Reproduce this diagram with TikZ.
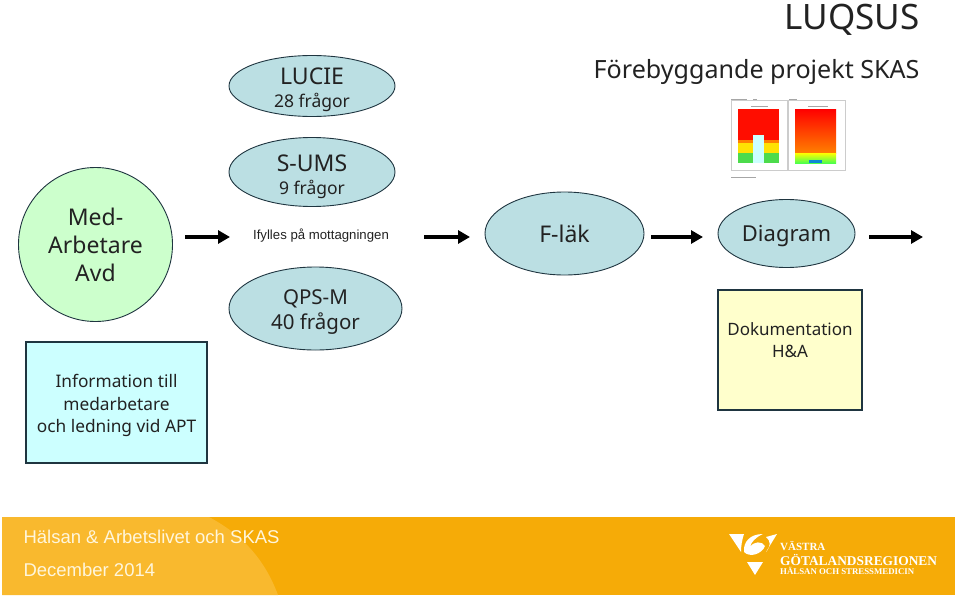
\documentclass[tikz,border=0pt]{standalone}
\usepackage{fontspec}
\setmainfont{Noto Sans}
\newfontfamily\arialfont{Liberation Sans}
\newfontfamily\logofont{Liberation Serif}
\usetikzlibrary{shapes.geometric,arrows.meta}
\definecolor{bluefill}{HTML}{BBDFE3}
\definecolor{greenfill}{HTML}{CCFFCC}
\definecolor{cyanfill}{HTML}{CCFFFF}
\definecolor{yellowfill}{HTML}{FFFFCC}
\definecolor{bandfill}{HTML}{F6AB07}
\definecolor{arcfill}{HTML}{F9B92E}
\definecolor{bandtext}{HTML}{FFF6DC}
\definecolor{inktext}{HTML}{222222}
\definecolor{edgeline}{HTML}{1F3540}
\tikzset{
  oval/.style={ellipse,draw=edgeline,line width=0.9pt,fill=bluefill,inner sep=0pt,align=center,text=inktext},
  box/.style={rectangle,draw=edgeline,line width=1.2pt,fill=#1,inner sep=0pt,align=center,text=inktext},
  ovaltext/.style={align=center,inner sep=0pt,text=inktext,font=\fontsize{#1}{25}\selectfont},
  flow/.style={line width=3.6pt,-{Triangle[length=12pt,width=13pt]},black},
  thumb/.style={draw=black!20,fill=white},
  tiny/.style={black!35,line width=0.5pt}
}
\begin{document}
\begin{tikzpicture}[x=1pt,y=-1pt]
\useasboundingbox (0,0) rectangle (959,597);
\fill [bandfill] (2,517) rectangle (955,595);
\fill [arcfill] (2,517) -- (209,517) .. controls (243,535) and (265,560) .. (278,595) -- (2,595) -- cycle;
\draw (923,20) node [anchor=east,font=\fontsize{35}{35}\selectfont,text=inktext] (luqsus) {LUQSUS};
\draw (923,72) node [anchor=east,font=\fontsize{25.1}{25}\selectfont,text=inktext] (projekt) {Förebyggande projekt SKAS};
\draw (312,86) node [oval,minimum width=166pt,minimum height=61pt] (lucie) {};
\draw (312,89.5) node [ovaltext=17.5] (lucietext) {{\fontsize{23}{25}\selectfont LUCIE}\\[-2pt]28 frågor};
\draw (312,172) node [oval,minimum width=166pt,minimum height=69pt] (sums) {};
\draw (312,176.5) node [ovaltext=17.5] (sumstext) {{\fontsize{23}{25}\selectfont S-UMS}\\[-2pt]9 frågor};
\draw (315.5,308.5) node [oval,minimum width=173pt,minimum height=83pt] (qpsm) {};
\draw (315.5,312.5) node [ovaltext=20.5] (qpsmtext) {QPS-M\\40 frågor};
\draw (321,236) node [font=\arialfont\fontsize{13.2}{14}\selectfont,text=inktext] (ifylles) {Ifylles på mottagningen};
\draw (95.5,244.5) node [circle,draw=edgeline,line width=0.9pt,fill=greenfill,minimum size=154pt,inner sep=0pt,align=center,font=\fontsize{23}{28}\selectfont,text=inktext] (med) {Med-\\Arbetare\\Avd};
\draw (116.5,402.5) node [box=cyanfill,minimum width=181pt,minimum height=121pt,font=\fontsize{17.3}{22.5}\selectfont] (info) {\rule{0pt}{20pt}Information till\\medarbetare\\och ledning vid APT};
\draw (564.5,233.5) node [oval,minimum width=159pt,minimum height=83pt,font=\fontsize{23}{28}\selectfont] (flak) {F-läk};
\draw (786.5,233.5) node [oval,minimum width=137pt,minimum height=68pt,text depth=0pt,font=\fontsize{22}{28}\selectfont] (diagram) {Diagram};
\draw (790,350) node [box=yellowfill,minimum width=144pt,minimum height=120pt,font=\fontsize{17}{22.5}\selectfont] (dok) {Dokumentation\\H\&A\rule[-20pt]{0pt}{0pt}};
\coordinate (a1) at (185,237);
\coordinate (a2) at (230,237);
\coordinate (b1) at (424,237);
\coordinate (b2) at (470,237);
\coordinate (c1) at (651,237);
\coordinate (c2) at (703,237);
\coordinate (d1) at (869,237);
\coordinate (d2) at (923,237);
\draw [flow] (a1)--(a2);
\draw [flow] (b1)--(b2);
\draw [flow] (c1)--(c2);
\draw [flow] (d1)--(d2);
\draw [thumb] (731,100) rectangle (787,170);
\draw [thumb] (788,100) rectangle (845,170);
\draw [tiny] (731,99)--(747,99);
\draw [tiny] (753,99)--(757,99);
\draw [tiny] (789,99)--(797,99);
\draw [tiny] (731,177)--(756,177);
\draw [tiny] (751,106)--(768,106);
\draw [tiny] (808,106)--(828,106);
\fill [red!90!orange] (738,109) rectangle (779,140);
\fill [orange] (738,140) rectangle (779,143);
\fill [yellow!85!orange] (738,143) rectangle (779,153);
\fill [green!80!black!70!white] (738,153) rectangle (779,163);
\fill [cyanfill] (753,135) rectangle (764,163);
\shade [top color=red,bottom color=orange] (795,109) rectangle (836,153);
\shade [top color=yellow,bottom color=green!70] (795,153) rectangle (836,163);
\fill [cyan!70!blue] (809,160) rectangle (822,163);
\draw (20,537) node [anchor=west,font=\arialfont\fontsize{18.5}{19}\selectfont,text=bandtext] (halsan) {Hälsan \& Arbetslivet och SKAS};
\draw (20,570) node [anchor=west,font=\arialfont\fontsize{18.5}{19}\selectfont,text=bandtext] (december) {December 2014};
\fill [white] (729,534) -- (744,534) .. controls (742,540) and (741,546) .. (741,552) -- cycle;
\fill [white] (777,534) -- (766,552) .. controls (771,546) and (771,541) .. (766,537) -- cycle;
\fill [white] (744,552) .. controls (743,542) and (750,534) .. (763,534) .. controls (756,537) and (751,542) .. (750,547) .. controls (754,541) and (762,541) .. (765,546) .. controls (762,554) and (750,558) .. (744,552) -- cycle;
\fill [white] (747,562) -- (763,562) -- (755,575) -- cycle;
\draw (780,546) node [anchor=west,inner sep=0pt,font=\logofont\bfseries\fontsize{11}{11}\selectfont,text=white] (vastra) {VÄSTRA};
\draw (780,560) node [anchor=west,inner sep=0pt,font=\logofont\bfseries\fontsize{13.4}{13}\selectfont,text=white] (gota) {GÖTALANDSREGIONEN};
\draw (780,571) node [anchor=west,inner sep=0pt,font=\logofont\bfseries\fontsize{8.8}{8}\selectfont,text=white] (stress) {HÄLSAN OCH STRESSMEDICIN};
\end{tikzpicture}
\end{document}
